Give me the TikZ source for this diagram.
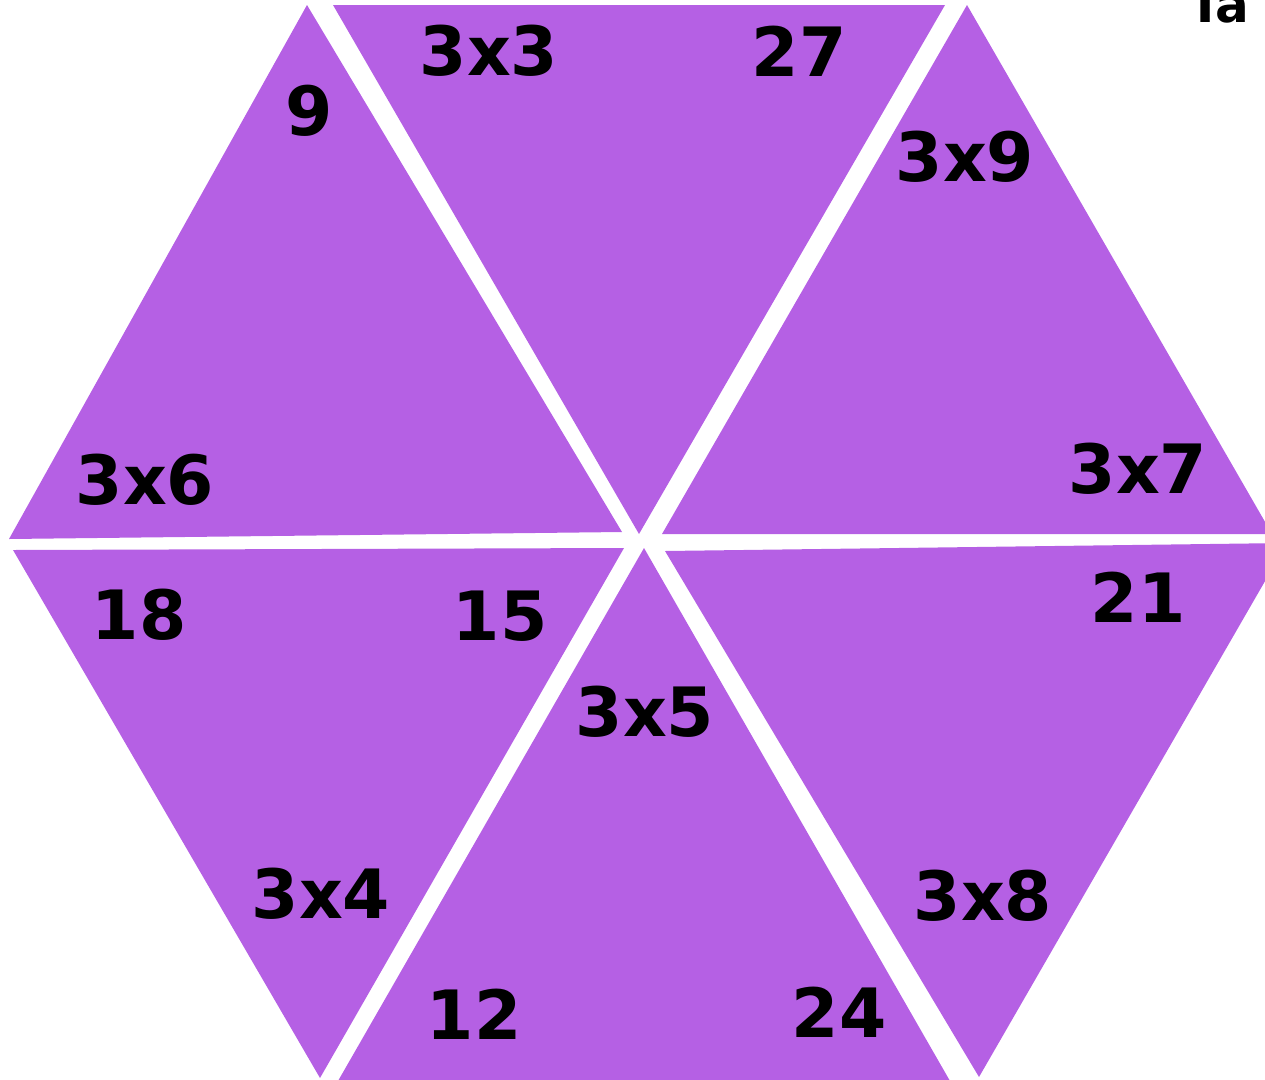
\documentclass[tikz,border=0pt]{standalone}
\usepackage{fontspec}
\setmainfont{DejaVu Sans}
\definecolor{tarsia}{RGB}{181,96,228}

\begin{document}
\begin{tikzpicture}[
  x=1pt, y=-1pt,
  piece/.style={fill=tarsia, draw=none},
  lbl/.style={font=\fontsize{68}{80}\selectfont\bfseries, inner sep=0pt},
  ttl/.style={font=\fontsize{50}{58}\selectfont\bfseries, inner sep=0pt, anchor=base west}
]
\useasboundingbox (0,0) rectangle (1265,1079);

\fill[piece] (307,5) -- (9,539) -- (622,532) -- cycle;
\fill[piece] (333,5) -- (945,5) -- (639,534) -- cycle;
\fill[piece] (967,5) -- (662,534) -- (1272,534) -- cycle;
\fill[piece] (13,550) -- (624,548) -- (320,1078) -- cycle;
\fill[piece] (644,548) -- (338,1081) -- (950,1081) -- cycle;
\fill[piece] (665,551) -- (1287,543) -- (979,1077) -- cycle;

\node[lbl] (nine) at (309,111) {9};
\node[lbl] (t3) at (489,51) {3x3};
\node[lbl] (tf7) at (799,51) {27};
\node[lbl] (t9) at (965,157) {3x9};
\node[lbl] (t6) at (145,480) {3x6};
\node[lbl] (t7) at (1138,469) {3x7};
\node[lbl] (eighteen) at (139,615) {18};
\node[lbl] (fifteen) at (500,616) {15};
\node[lbl] (tone) at (1138,597) {21};
\node[lbl] (t5) at (645,712) {3x5};
\node[lbl] (t4) at (321,894) {3x4};
\node[lbl] (t8) at (983,896) {3x8};
\node[lbl] (twelve) at (474,1014) {12};
\node[lbl] (tfour) at (839,1012) {24};

\node[ttl] (title) at (1188,22) {Ta};
\end{tikzpicture}
\end{document}
